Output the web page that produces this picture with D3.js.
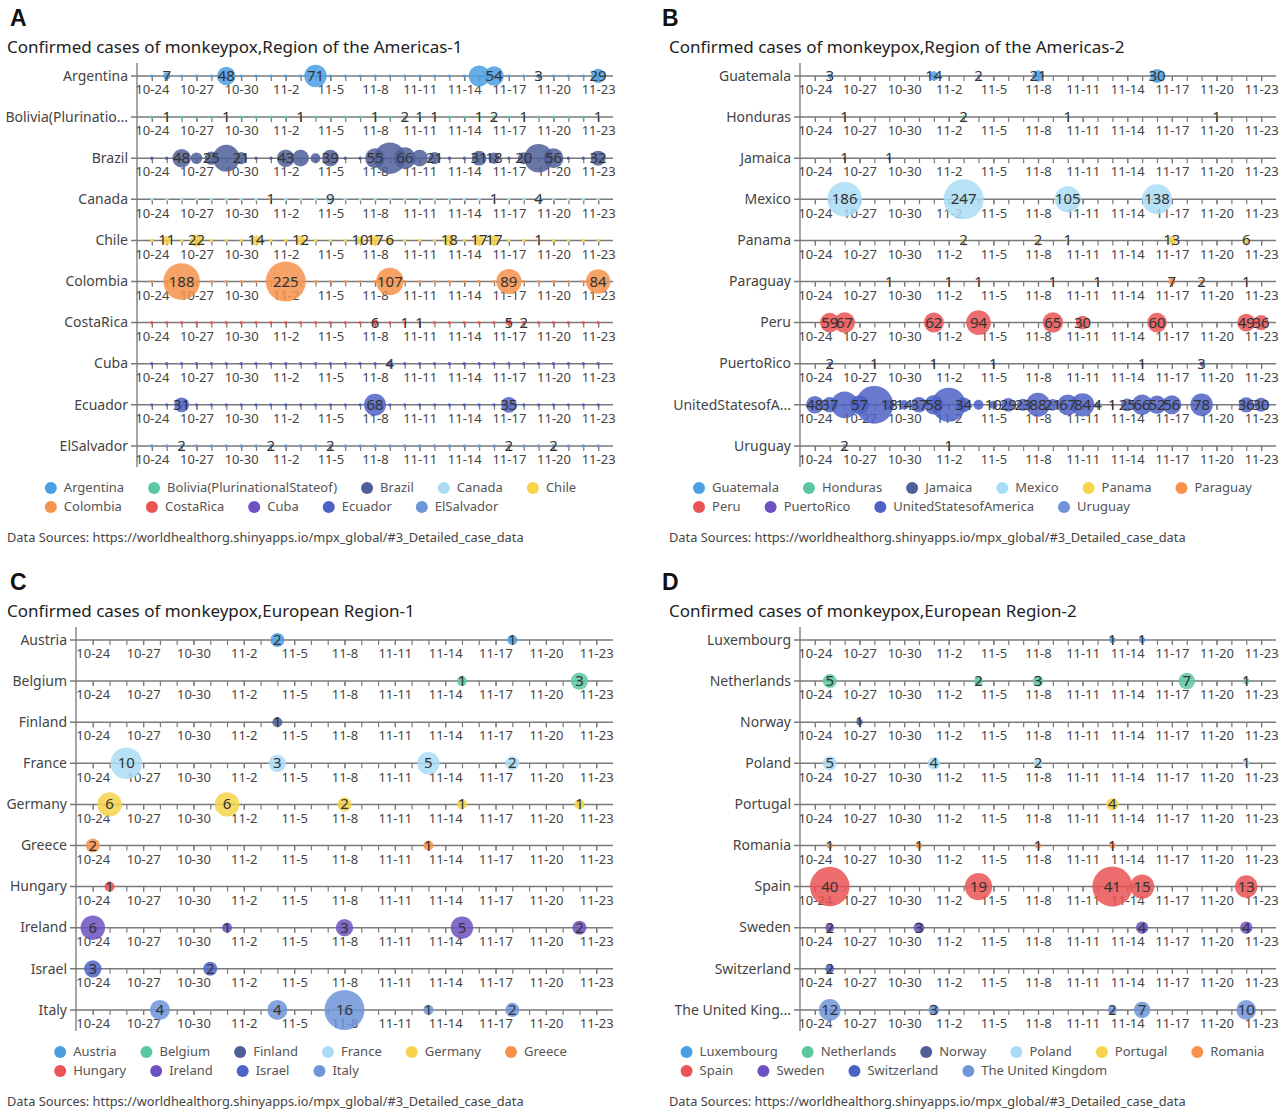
<!DOCTYPE html>
<html>
<head>
<meta charset="utf-8">
<script src="https://cdn.jsdelivr.net/npm/d3@7"></script>
<style>
  body { margin: 0; background: #fff; }
  text { font-family: "Noto Sans", sans-serif; }
</style>
</head>
<body>
<script>
// days on the x axis
const dates = ["10-24","10-25","10-26","10-27","10-28","10-29","10-30","10-31",
  "11-1","11-2","11-3","11-4","11-5","11-6","11-7","11-8","11-9","11-10","11-11",
  "11-12","11-13","11-14","11-15","11-16","11-17","11-18","11-19","11-20","11-21",
  "11-22","11-23"];
const tickDates = ["10-24","10-27","10-30","11-2","11-5","11-8","11-11","11-14","11-17","11-20","11-23"];

const palette = ["#4a9fe3","#5cc8a0","#4f5f99","#a9dcf4","#f6d44b","#f6924b","#ea5455","#6c51c0","#4d62c6","#6f94da"];

// [date, cases, showLabel]
const americas1Countries = ["Argentina","Bolivia(PlurinationalStateof)","Brazil","Canada","Chile",
  "Colombia","CostaRica","Cuba","Ecuador","ElSalvador"];
const americas1Cases = [
  [["10-25",7],["10-29",48],["11-4",71],["11-15",62,false],["11-16",54],["11-19",3],["11-23",29]],
  [["10-25",1],["10-29",1],["11-3",1],["11-8",1],["11-10",2],["11-11",1],["11-12",1],["11-15",1],["11-16",2],["11-18",1],["11-23",1]],
  [["10-26",48],["10-27",19,false],["10-28",25],["10-29",100,false],["10-30",21],["11-2",43],["11-3",39,false],["11-4",14,false],
   ["11-5",39],["11-8",55],["11-9",140,false],["11-10",66],["11-11",39,false],["11-12",21],["11-15",31],["11-16",18],
   ["11-18",20],["11-19",115,false],["11-20",56],["11-23",32]],
  [["11-1",1],["11-5",9],["11-16",1],["11-19",4]],
  [["10-25",11],["10-27",22],["10-31",14],["11-3",12],["11-7",10],["11-8",17],["11-9",6],["11-13",18],["11-15",17],["11-16",17],["11-19",1]],
  [["10-26",188],["11-2",225],["11-9",107],["11-17",89],["11-23",84]],
  [["11-8",6],["11-10",1],["11-11",1],["11-17",5],["11-18",2]],
  [["11-9",4]],
  [["10-26",31],["11-8",68],["11-17",35]],
  [["10-26",2],["11-1",2],["11-5",2],["11-17",2],["11-20",2]]
];

const americas2Countries = ["Guatemala","Honduras","Jamaica","Mexico","Panama","Paraguay","Peru",
  "PuertoRico","UnitedStatesofAmerica","Uruguay"];
const americas2Cases = [
  [["10-25",3],["11-1",14],["11-4",2],["11-8",21],["11-16",30]],
  [["10-26",1],["11-3",2],["11-10",1],["11-20",1]],
  [["10-26",1],["10-29",1]],
  [["10-26",186],["11-3",247],["11-10",105],["11-16",138]],
  [["11-3",2],["11-8",2],["11-10",1],["11-17",13],["11-22",6]],
  [["10-29",1],["11-2",1],["11-4",1],["11-9",1],["11-12",1],["11-17",7],["11-19",2],["11-22",1]],
  [["10-25",59],["10-26",67],["11-1",62],["11-4",94],["11-9",65],["11-11",30],["11-16",60],["11-22",49],["11-23",36]],
  [["10-25",2],["10-28",1],["11-1",1],["11-5",1],["11-15",1],["11-19",3]],
  [["10-24",48],["10-25",37],["10-26",110,false],["10-27",57],["10-28",220,false],["10-29",18],["10-30",14],["10-31",37],
   ["11-1",58],["11-2",180,false],["11-3",34],["11-4",15,false],["11-5",10],["11-6",29],["11-7",23],["11-8",88],["11-9",21],
   ["11-10",67],["11-11",84],["11-12",4],["11-13",1],["11-14",25],["11-15",66],["11-16",52],["11-17",56],["11-19",78],
   ["11-22",36],["11-23",30]],
  [["10-26",2],["11-2",1]]
];

const europe1Countries = ["Austria","Belgium","Finland","France","Germany","Greece","Hungary","Ireland","Israel","Italy"];
const europe1Cases = [
  [["11-4",2],["11-18",1]],
  [["11-15",1],["11-22",3]],
  [["11-4",1]],
  [["10-26",10],["11-4",3],["11-13",5],["11-18",2]],
  [["10-25",6],["11-1",6],["11-8",2],["11-15",1],["11-22",1]],
  [["10-24",2],["11-13",1]],
  [["10-25",1]],
  [["10-24",6],["11-1",1],["11-8",3],["11-15",5],["11-22",2]],
  [["10-24",3],["10-31",2]],
  [["10-28",4],["11-4",4],["11-8",16],["11-13",1],["11-18",2]]
];

const europe2Countries = ["Luxembourg","Netherlands","Norway","Poland","Portugal","Romania","Spain","Sweden","Switzerland","The United Kingdom"];
const europe2Cases = [
  [["11-13",1],["11-15",1]],
  [["10-25",5],["11-4",2],["11-8",3],["11-18",7],["11-22",1]],
  [["10-27",1]],
  [["10-25",5],["11-1",4],["11-8",2],["11-22",1]],
  [["11-13",4]],
  [["10-25",1],["10-31",1],["11-8",1],["11-13",1]],
  [["10-25",40],["11-4",19],["11-13",41],["11-15",15],["11-22",13]],
  [["10-25",2],["10-31",3],["11-15",4],["11-22",4]],
  [["10-25",2]],
  [["10-25",12],["11-1",3],["11-13",2],["11-15",7],["11-22",10]]
];

const sourceText = "Data Sources: https://worldhealthorg.shinyapps.io/mpx_global/#3_Detailed_case_data";

const panels = [
  { letter: "A", title: "Confirmed cases of monkeypox,Region of the Americas-1", countries: americas1Countries, cases: americas1Cases,
    x0: 0, y0: 0, letterX: 10, axisX: 137, plotRight: 613, zeroDots: true },
  { letter: "B", title: "Confirmed cases of monkeypox,Region of the Americas-2", countries: americas2Countries, cases: americas2Cases,
    x0: 662, y0: 0, letterX: 662, axisX: 800, plotRight: 1276, zeroDots: false },
  { letter: "C", title: "Confirmed cases of monkeypox,European Region-1", countries: europe1Countries, cases: europe1Cases,
    x0: 0, y0: 564, letterX: 10, axisX: 76, plotRight: 613, zeroDots: false },
  { letter: "D", title: "Confirmed cases of monkeypox,European Region-2", countries: europe2Countries, cases: europe2Cases,
    x0: 662, y0: 564, letterX: 662, axisX: 800, plotRight: 1276, zeroDots: false }
];

const svg = d3.select("body").append("svg")
  .attr("width", 1288)
  .attr("height", 1110);

const rowStep = 41.1;

// cut long country names like the chart does ("Bolivia(Plurinatio...")
function truncate(sel, maxW) {
  sel.each(function () {
    const t = d3.select(this);
    if (this.getComputedTextLength() <= maxW) return;
    let s = t.text();
    while (s.length > 1) {
      s = s.slice(0, -1);
      t.text(s + "...");
      if (this.getComputedTextLength() <= maxW) break;
    }
  });
}

function drawPanel(p) {
  const g = svg.append("g");
  const top = p.y0 + 76;
  const n = p.countries.length;

  const x = d3.scaleLinear().domain([-1, 31]).range([p.axisX, p.plotRight]);
  const y = d3.scaleLinear().domain([0, n - 1]).range([top, top + (n - 1) * rowStep]);
  const maxV = d3.max(p.cases.flat(), d => d[1]);
  const r = d3.scaleSqrt().domain([0, maxV]).range([0, 20]);
  const color = d3.scaleOrdinal().domain(p.countries).range(palette);
  const dayIdx = d => dates.indexOf(d);

  // letter + title
  g.append("text")
    .attr("x", p.letterX).attr("y", p.y0 + 26)
    .style("font-family", "Liberation Sans, Arial, sans-serif")
    .attr("font-weight", "bold").attr("font-size", 23).attr("fill", "#111")
    .text(p.letter);
  g.append("text")
    .attr("x", p.x0 + 7).attr("y", p.y0 + 53)
    .attr("font-size", 17).attr("fill", "#222")
    .text(p.title);

  // vertical axis line
  g.append("line")
    .attr("x1", p.axisX).attr("x2", p.axisX)
    .attr("y1", top - 13).attr("y2", y(n - 1) + 21)
    .attr("stroke", "#777").attr("stroke-width", 1.3);

  // one single axis per country
  p.countries.forEach((c, i) => {
    const row = g.append("g").attr("transform", `translate(0,${y(i)})`);
    row.append("line")
      .attr("x1", p.axisX - 6).attr("x2", p.plotRight)
      .attr("stroke", "#7a7a7a").attr("stroke-width", 1.5);

    // daily ticks
    const minor = row.append("g").call(
      d3.axisBottom(x)
        .tickValues(d3.range(dates.length))
        .tickSize(5).tickSizeOuter(0)
        .tickFormat(() => null));
    minor.select(".domain").remove();
    minor.selectAll(".tick text").remove();
    minor.selectAll(".tick line").attr("stroke", "#7a7a7a").attr("stroke-width", 1.2);

    // labelled ticks
    const major = row.append("g").call(
      d3.axisBottom(x)
        .tickValues(tickDates.map(dayIdx))
        .tickSize(5).tickSizeOuter(0).tickPadding(4)
        .tickFormat(k => dates[k]));
    major.select(".domain").remove();
    major.selectAll(".tick line").attr("stroke", "#7a7a7a").attr("stroke-width", 1.2);
    major.selectAll(".tick text")
      .attr("fill", "#444")
      .style("font-family", "Noto Sans, sans-serif")
      .attr("font-size", 13);

    row.append("text")
      .attr("x", p.axisX - 9).attr("y", 1)
      .attr("text-anchor", "end").attr("dominant-baseline", "middle")
      .attr("font-size", 14).attr("fill", "#444")
      .text(c)
      .call(truncate, 124);

    if (p.zeroDots) {
      const have = new Set(p.cases[i].map(d => d[0]));
      row.selectAll("circle.zero")
        .data(dates.filter(d => !have.has(d)))
        .join("circle")
        .attr("class", "zero")
        .attr("cx", d => x(dayIdx(d))).attr("cy", 0)
        .attr("r", 1.6)
        .attr("fill", color(c));
    }
  });

  // bubbles
  p.countries.forEach((c, i) => {
    g.append("g").selectAll("circle")
      .data(p.cases[i])
      .join("circle")
      .attr("cx", d => x(dayIdx(d[0])))
      .attr("cy", y(i))
      .attr("r", d => Math.max(1.5, r(d[1])))
      .attr("fill", color(c))
      .attr("fill-opacity", 0.85);
  });

  // value labels
  p.countries.forEach((c, i) => {
    g.append("g").selectAll("text")
      .data(p.cases[i].filter(d => d[2] !== false))
      .join("text")
      .attr("x", d => x(dayIdx(d[0])))
      .attr("y", y(i) + 1)
      .attr("text-anchor", "middle").attr("dominant-baseline", "middle")
      .attr("font-size", 15).attr("fill", "#333")
      .text(d => d[1]);
  });

  // legend, wrapped and centred under the panel
  const lg = g.append("g");
  const items = p.countries.map(c => {
    const it = lg.append("g");
    it.append("circle").attr("cx", 6).attr("cy", 0).attr("r", 6).attr("fill", color(c));
    const t = it.append("text")
      .attr("x", 19).attr("y", 1)
      .attr("dominant-baseline", "middle")
      .attr("font-size", 13).attr("fill", "#555")
      .text(c);
    return { g: it, w: 19 + t.node().getComputedTextLength() };
  });
  const maxRow = 595, gap = 24;
  let rowI = 0, cur = 0, blockW = 0;
  items.forEach(it => {
    if (cur > 0 && cur + gap + it.w > maxRow) { rowI++; cur = 0; }
    it.col = cur > 0 ? cur + gap : 0;
    it.row = rowI;
    cur = it.col + it.w;
    blockW = Math.max(blockW, cur);
  });
  const left = p.x0 + 310.5 - blockW / 2;
  items.forEach(it => {
    it.g.attr("transform", `translate(${left + it.col},${top + 412 + it.row * 19})`);
  });

  // source note
  g.append("text")
    .attr("x", p.x0 + 7).attr("y", top + 466)
    .attr("font-size", 12.8).attr("fill", "#444")
    .text(sourceText);
}

panels.forEach(drawPanel);
</script>
</body>
</html>
